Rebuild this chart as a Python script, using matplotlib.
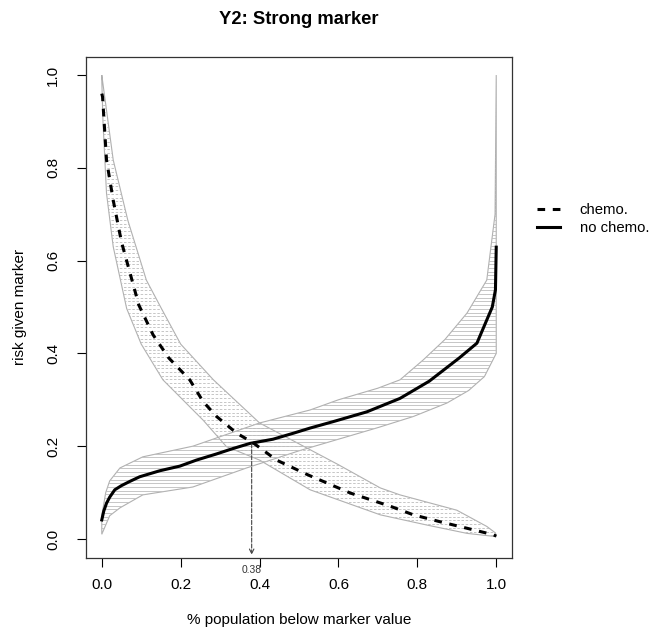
import numpy as np
import matplotlib
matplotlib.use("Agg")
import matplotlib.pyplot as plt
from matplotlib.patches import Polygon
from matplotlib.collections import LineCollection

plt.rcParams['font.family'] = ['Liberation Sans', 'DejaVu Sans']

# risk curves
x_chemo = [0, 0.002, 0.012, 0.029, 0.05, 0.094, 0.13, 0.17, 0.223, 0.257, 0.291,
           0.342, 0.384, 0.443, 0.523, 0.63, 0.733, 0.79, 0.858, 0.926, 0.993, 1.0]
y_chemo = [0.96, 0.953, 0.817, 0.73, 0.64, 0.504, 0.44, 0.39, 0.343, 0.296, 0.264,
           0.228, 0.207, 0.17, 0.138, 0.099, 0.07, 0.052, 0.037, 0.023, 0.009, 0.006]

x_nochemo = [0, 0.005, 0.012, 0.02, 0.033, 0.05, 0.071, 0.096, 0.147, 0.198, 0.24,
             0.29, 0.333, 0.376, 0.434, 0.486, 0.528, 0.587, 0.672, 0.756, 0.83,
             0.906, 0.951, 0.976, 0.99, 0.998, 1.0]
y_nochemo = [0.041, 0.06, 0.077, 0.09, 0.106, 0.115, 0.124, 0.134, 0.147, 0.157, 0.17,
             0.183, 0.195, 0.206, 0.215, 0.228, 0.239, 0.253, 0.274, 0.303, 0.34,
             0.39, 0.422, 0.472, 0.5, 0.537, 0.629]

# confidence bands
x_ch_hi = [0, 0.029, 0.066, 0.113, 0.151, 0.2, 0.283, 0.4, 0.5, 0.6, 0.706, 0.756,
           0.9, 0.976, 0.998, 1.0]
y_ch_hi = [1.0, 0.817, 0.687, 0.558, 0.497, 0.42, 0.343, 0.25, 0.205, 0.16, 0.11,
           0.095, 0.062, 0.027, 0.013, 0.005]
x_ch_lo = [0, 0.003, 0.012, 0.029, 0.063, 0.1, 0.155, 0.257, 0.316, 0.4, 0.528,
           0.706, 0.824, 0.926]
y_ch_lo = [0.99, 0.9, 0.745, 0.63, 0.497, 0.42, 0.343, 0.256, 0.199, 0.17, 0.106,
           0.052, 0.03, 0.012]

x_nc_hi = [0, 0.01, 0.02, 0.046, 0.104, 0.231, 0.4, 0.528, 0.6, 0.7, 0.756, 0.815,
           0.87, 0.926, 0.976, 0.997, 1.0]
y_nc_hi = [0.05, 0.1, 0.125, 0.153, 0.177, 0.2, 0.25, 0.278, 0.3, 0.325, 0.343,
           0.386, 0.43, 0.487, 0.558, 0.7, 1.0]
x_nc_lo = [0, 0.02, 0.046, 0.104, 0.231, 0.367, 0.5, 0.6, 0.7, 0.79, 0.875, 0.93,
           0.97, 1.0]
y_nc_lo = [0.01, 0.05, 0.067, 0.095, 0.112, 0.153, 0.19, 0.215, 0.24, 0.264, 0.293,
           0.32, 0.35, 0.4]

cross_x = 0.38
cross_y = 0.205

fig = plt.figure(figsize=(6.54, 6.37), dpi=100)
ax = fig.add_axes([0.1315, 0.1248, 0.6514, 0.7865])


def band(xh, yh, xl, yl, ls):
    verts = list(zip(xh, yh)) + list(zip(xl[::-1], yl[::-1]))
    poly = Polygon(verts, closed=True, facecolor='none', edgecolor='#b0b0b0', lw=0.8)
    ax.add_patch(poly)
    levels = np.arange(0, 1.0, 0.008)
    segs = [[(-0.04, v), (1.04, v)] for v in levels]
    lc = LineCollection(segs, colors='#bdbdbd', linewidths=0.6, linestyles=ls)
    ax.add_collection(lc)
    lc.set_clip_path(poly)


band(x_nc_hi, y_nc_hi, x_nc_lo, y_nc_lo, 'solid')
band(x_ch_hi, y_ch_hi, x_ch_lo, y_ch_lo, (0, (3, 2)))

ax.plot(x_chemo, y_chemo, color='black', lw=2.2, dashes=(2.5, 2.5), label='chemo.')
ax.plot(x_nochemo, y_nochemo, color='black', lw=2.2, label='no chemo.')

ax.annotate('', xy=(cross_x, -0.034), xytext=(cross_x, cross_y),
            arrowprops=dict(arrowstyle='->', linestyle='--', color='#444444', lw=0.8,
                            shrinkA=0, shrinkB=0, mutation_scale=8))
ax.text(cross_x, -0.025, '0.38', transform=ax.get_xaxis_transform(), ha='center',
        va='center', fontsize=7.4, color='#333333', clip_on=False)

ax.set_xlim(-0.04, 1.04)
ax.set_ylim(-0.04, 1.04)
ticks = [0.0, 0.2, 0.4, 0.6, 0.8, 1.0]
ax.set_xticks(ticks)
ax.set_yticks(ticks)
ax.set_xticklabels(['0.0', '0.2', '0.4', '0.6', '0.8', '1.0'])
ax.set_yticklabels(['0.0', '0.2', '0.4', '0.6', '0.8', '1.0'], rotation=90, va='center')
ax.tick_params(axis='both', length=6.5, width=0.8, labelsize=11)
ax.tick_params(axis='x', pad=8)
ax.tick_params(axis='y', pad=12)
for s in ax.spines.values():
    s.set_linewidth(0.9)
    s.set_color('#333333')

ax.set_xlabel('% population below marker value', fontsize=11)
ax.xaxis.label.set_va('center')
ax.xaxis.set_label_coords(0.5, -0.1248)
ax.set_ylabel('risk given marker', fontsize=11)
ax.yaxis.label.set_va('center')
ax.yaxis.set_label_coords(-0.155, 0.5)

ax.text(0.5, 1.064, 'Y2: Strong marker', transform=ax.transAxes, ha='center',
        va='baseline', fontsize=13.2, fontweight='bold')

ax.legend(loc='upper left', bbox_to_anchor=(1.059, 0.7066), frameon=False,
          fontsize=10.7, handlelength=1.57, handletextpad=1.3, borderpad=0,
          borderaxespad=0, labelspacing=0.25)

fig.savefig('out.png', dpi=100)
